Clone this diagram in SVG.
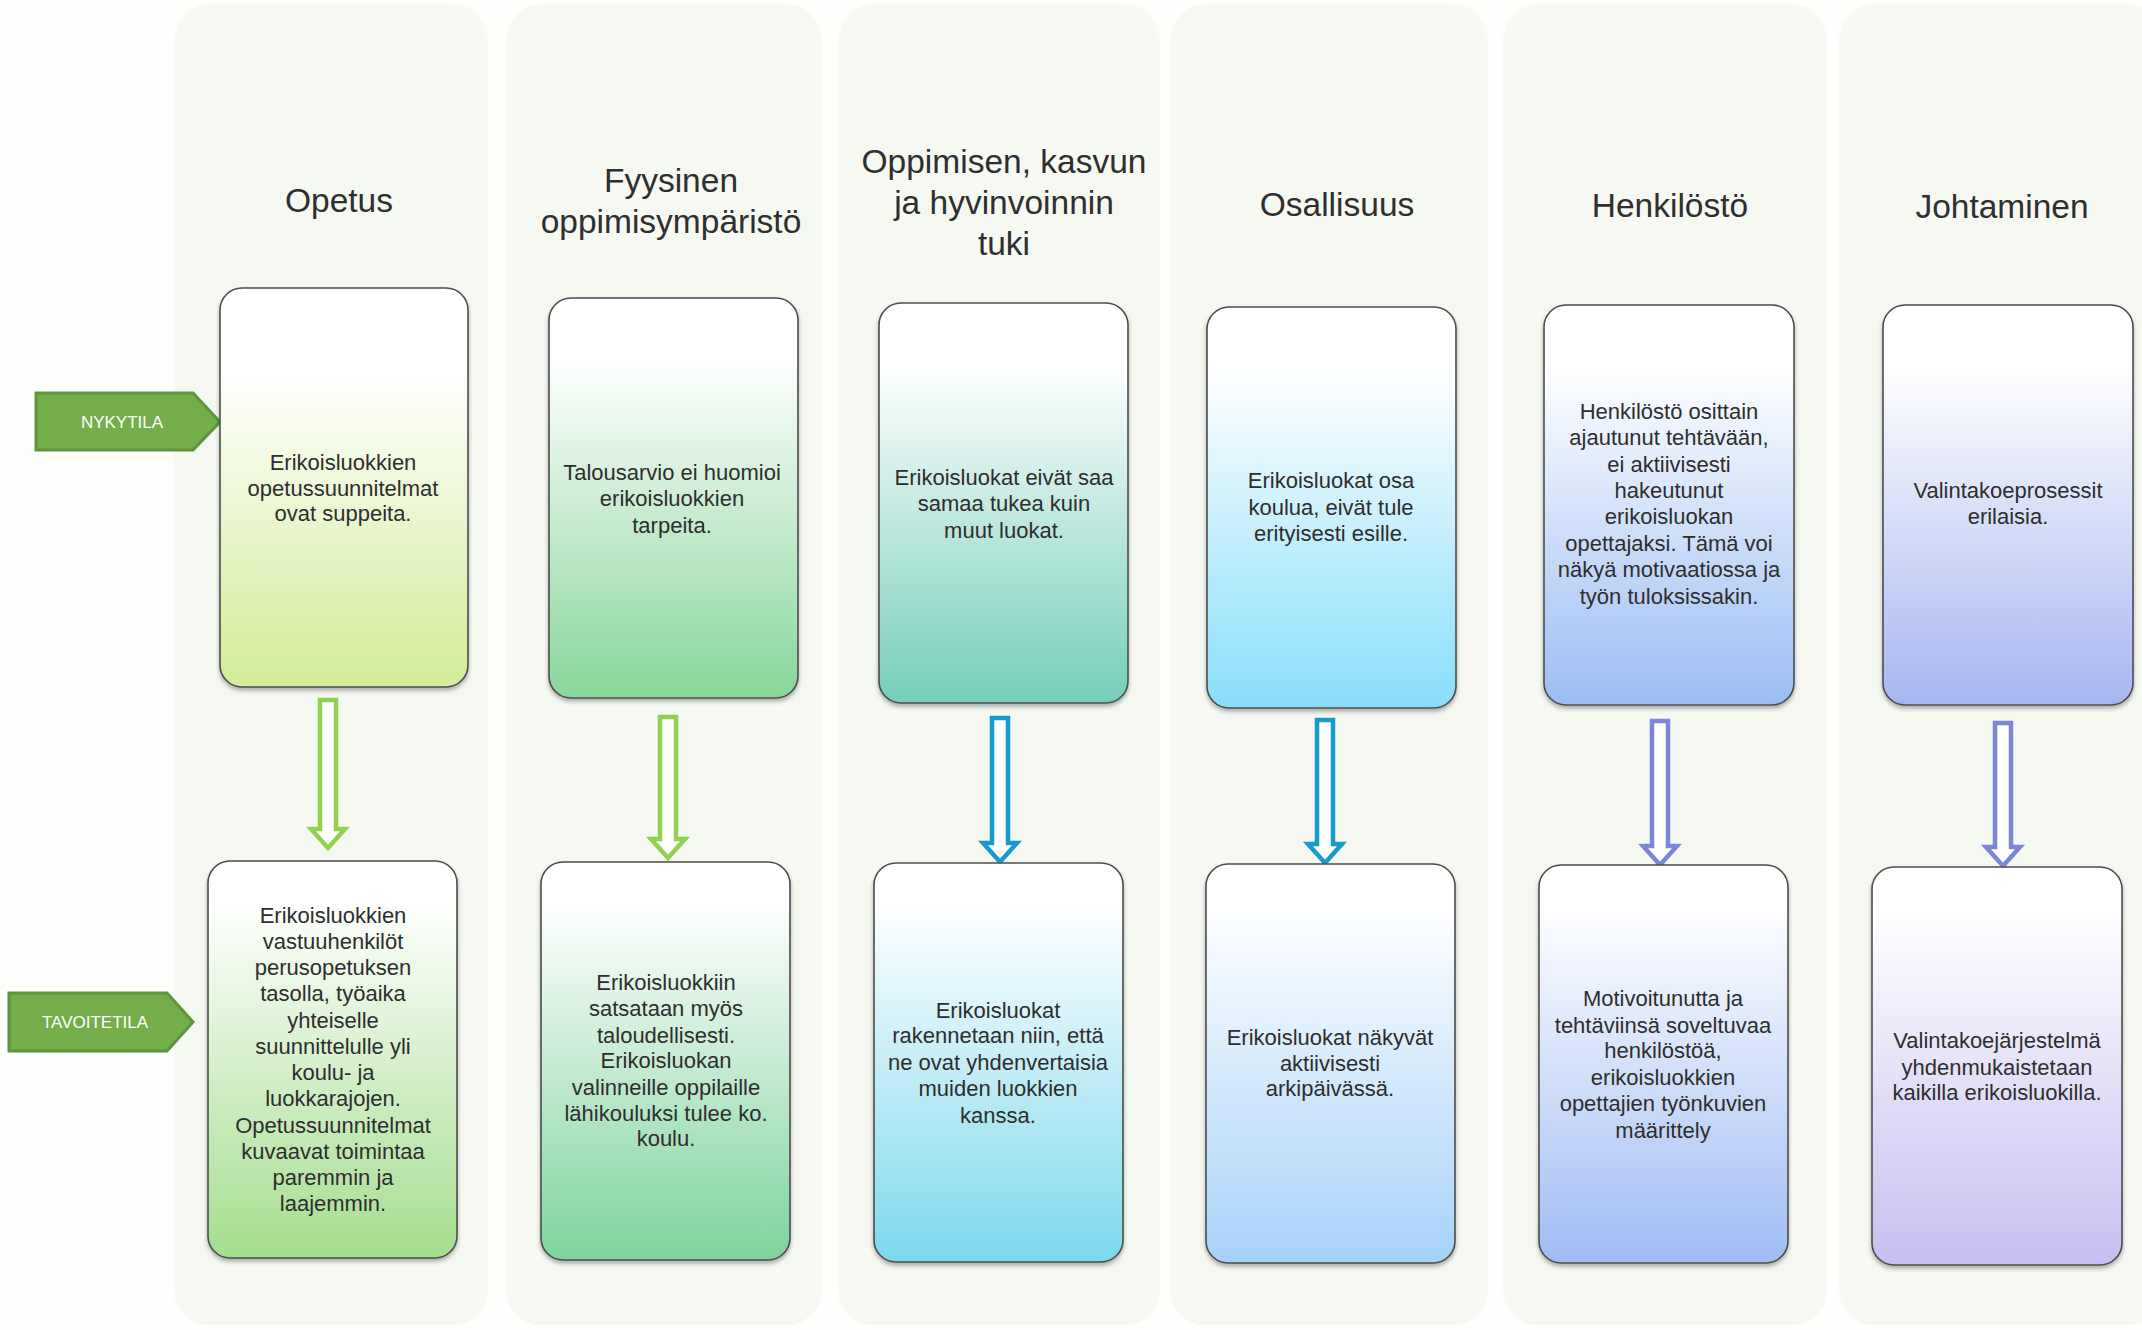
<svg xmlns="http://www.w3.org/2000/svg" width="2142" height="1330" viewBox="0 0 2142 1330">
<defs>
<style>
.panel{fill:#f6f8f2;}
.box{stroke:#4d4d4d;stroke-width:1.6;filter:url(#sh);}
.t{font-family:"Liberation Sans",Arial,sans-serif;font-size:22px;fill:#2e2e2e;text-anchor:middle;}
.h{font-family:"Liberation Sans",Arial,sans-serif;font-size:33.5px;fill:#2f2f2f;text-anchor:middle;}
.lab{fill:#73ae4a;stroke:#5c963a;stroke-width:3;}
.lt{font-family:"Liberation Sans",Arial,sans-serif;font-size:17px;fill:#ffffff;text-anchor:middle;}
.ar{fill:#ffffff;stroke-width:4.5;stroke-linejoin:miter;}
.g{stroke:#92d050;}
.b{stroke:#169bcb;}
.p{stroke:#7b86d8;}
</style>
<filter id="sh" x="-10%" y="-10%" width="120%" height="120%">
<feDropShadow dx="0" dy="3" stdDeviation="2" flood-color="#000" flood-opacity="0.3"/>
</filter>
<filter id="psh" x="-10%" y="-5%" width="120%" height="110%">
<feDropShadow dx="0" dy="2" stdDeviation="2" flood-color="#000" flood-opacity="0.07"/>
</filter>
<linearGradient id="g1" x1="0" y1="0" x2="0" y2="1"><stop offset="0.2" stop-color="#ffffff"/><stop offset="1" stop-color="#d2ec98"/></linearGradient>
<linearGradient id="g2" x1="0" y1="0" x2="0" y2="1"><stop offset="0.15" stop-color="#ffffff"/><stop offset="1" stop-color="#88d69a"/></linearGradient>
<linearGradient id="g3" x1="0" y1="0" x2="0" y2="1"><stop offset="0.15" stop-color="#ffffff"/><stop offset="1" stop-color="#74ceba"/></linearGradient>
<linearGradient id="g4" x1="0" y1="0" x2="0" y2="1"><stop offset="0.15" stop-color="#ffffff"/><stop offset="1" stop-color="#88def9"/></linearGradient>
<linearGradient id="g5" x1="0" y1="0" x2="0" y2="1"><stop offset="0.15" stop-color="#ffffff"/><stop offset="1" stop-color="#9bbdf3"/></linearGradient>
<linearGradient id="g6" x1="0" y1="0" x2="0" y2="1"><stop offset="0.15" stop-color="#ffffff"/><stop offset="1" stop-color="#a6b6f0"/></linearGradient>
<linearGradient id="h1" x1="0" y1="0" x2="0" y2="1"><stop offset="0.1" stop-color="#ffffff"/><stop offset="1" stop-color="#a4de8e"/></linearGradient>
<linearGradient id="h2" x1="0" y1="0" x2="0" y2="1"><stop offset="0.1" stop-color="#ffffff"/><stop offset="1" stop-color="#7fd39c"/></linearGradient>
<linearGradient id="h3" x1="0" y1="0" x2="0" y2="1"><stop offset="0.1" stop-color="#ffffff"/><stop offset="1" stop-color="#7dd8ec"/></linearGradient>
<linearGradient id="h4" x1="0" y1="0" x2="0" y2="1"><stop offset="0.1" stop-color="#ffffff"/><stop offset="1" stop-color="#a6d2f8"/></linearGradient>
<linearGradient id="h5" x1="0" y1="0" x2="0" y2="1"><stop offset="0.1" stop-color="#ffffff"/><stop offset="1" stop-color="#9fbcf3"/></linearGradient>
<linearGradient id="h6" x1="0" y1="0" x2="0" y2="1"><stop offset="0.1" stop-color="#ffffff"/><stop offset="1" stop-color="#c6bff0"/></linearGradient>
</defs>
<rect x="0" y="0" width="2142" height="1330" fill="#fefefd"/>

<g id="panels" filter="url(#psh)">
<rect class="panel" x="176" y="4" width="310" height="1318" rx="34"/>
<rect class="panel" x="508" y="4" width="312" height="1318" rx="34"/>
<rect class="panel" x="840" y="4" width="318" height="1318" rx="34"/>
<rect class="panel" x="1172" y="4" width="314" height="1318" rx="34"/>
<rect class="panel" x="1505" y="4" width="320" height="1318" rx="34"/>
<rect class="panel" x="1841" y="4" width="320" height="1318" rx="34"/>
</g>

<g id="headers">
<text class="h" x="339" y="212">Opetus</text>
<text class="h" x="671" y="192">Fyysinen</text>
<text class="h" x="671" y="233">oppimisympäristö</text>
<text class="h" x="1004" y="173">Oppimisen, kasvun</text>
<text class="h" x="1004" y="214">ja hyvinvoinnin</text>
<text class="h" x="1004" y="255">tuki</text>
<text class="h" x="1337" y="216">Osallisuus</text>
<text class="h" x="1670" y="217">Henkilöstö</text>
<text class="h" x="2002" y="218">Johtaminen</text>
</g>

<g id="label-nykytila">
<path class="lab" d="M36 393 H193 L220 422 L193 450 H36 Z"/>
<text class="lt" x="122" y="428">NYKYTILA</text>
</g>
<g id="label-tavoitetila">
<path class="lab" d="M9 993 H167 L193 1022 L167 1051 H9 Z"/>
<text class="lt" x="95" y="1028">TAVOITETILA</text>
</g>

<g id="connectors">
<path class="ar g" d="M320 700 H336 V829 H345 L328 848 L311 829 H320 Z"/>
<path class="ar g" d="M660 717 H676 V839 H685 L668 858 L651 839 H660 Z"/>
<path class="ar b" d="M992 718 H1008 V843 H1017 L1000 862 L983 843 H992 Z"/>
<path class="ar b" d="M1317 720 H1333 V844 H1342 L1325 863 L1308 844 H1317 Z"/>
<path class="ar p" d="M1652 721 H1668 V846 H1677 L1660 865 L1643 846 H1652 Z"/>
<path class="ar p" d="M1995 723 H2011 V847 H2020 L2003 866 L1986 847 H1995 Z"/>
</g>

<g id="nyky-opetus">
<rect class="box" x="220" y="288" width="248" height="399" rx="22" fill="url(#g1)"/>
<text class="t" x="343" y="470">Erikoisluokkien</text>
<text class="t" x="343" y="496">opetussuunnitelmat</text>
<text class="t" x="343" y="521">ovat suppeita.</text>
</g>
<g id="nyky-fyysinen">
<rect class="box" x="549" y="298" width="249" height="400" rx="22" fill="url(#g2)"/>
<text class="t" x="672" y="480">Talousarvio ei huomioi</text>
<text class="t" x="672" y="506">erikoisluokkien</text>
<text class="t" x="672" y="533">tarpeita.</text>
</g>
<g id="nyky-tuki">
<rect class="box" x="879" y="303" width="249" height="400" rx="22" fill="url(#g3)"/>
<text class="t" x="1004" y="485">Erikoisluokat eivät saa</text>
<text class="t" x="1004" y="511">samaa tukea kuin</text>
<text class="t" x="1004" y="538">muut luokat.</text>
</g>
<g id="nyky-osallisuus">
<rect class="box" x="1207" y="307" width="249" height="401" rx="22" fill="url(#g4)"/>
<text class="t" x="1331" y="488">Erikoisluokat osa</text>
<text class="t" x="1331" y="515">koulua, eivät tule</text>
<text class="t" x="1331" y="541">erityisesti esille.</text>
</g>
<g id="nyky-henkilosto">
<rect class="box" x="1544" y="305" width="250" height="400" rx="22" fill="url(#g5)"/>
<text class="t" x="1669" y="419">Henkilöstö osittain</text>
<text class="t" x="1669" y="445">ajautunut tehtävään,</text>
<text class="t" x="1669" y="472">ei aktiivisesti</text>
<text class="t" x="1669" y="498">hakeutunut</text>
<text class="t" x="1669" y="524">erikoisluokan</text>
<text class="t" x="1669" y="551">opettajaksi. Tämä voi</text>
<text class="t" x="1669" y="577">näkyä motivaatiossa ja</text>
<text class="t" x="1669" y="604">työn tuloksissakin.</text>
</g>
<g id="nyky-johtaminen">
<rect class="box" x="1883" y="305" width="250" height="400" rx="22" fill="url(#g6)"/>
<text class="t" x="2008" y="498">Valintakoeprosessit</text>
<text class="t" x="2008" y="524">erilaisia.</text>
</g>

<g id="tavoite-opetus">
<rect class="box" x="208" y="861" width="249" height="397" rx="22" fill="url(#h1)"/>
<text class="t" x="333" y="923">Erikoisluokkien</text>
<text class="t" x="333" y="949">vastuuhenkilöt</text>
<text class="t" x="333" y="975">perusopetuksen</text>
<text class="t" x="333" y="1001">tasolla, työaika</text>
<text class="t" x="333" y="1028">yhteiselle</text>
<text class="t" x="333" y="1054">suunnittelulle yli</text>
<text class="t" x="333" y="1080">koulu- ja</text>
<text class="t" x="333" y="1106">luokkarajojen.</text>
<text class="t" x="333" y="1133">Opetussuunnitelmat</text>
<text class="t" x="333" y="1159">kuvaavat toimintaa</text>
<text class="t" x="333" y="1185">paremmin ja</text>
<text class="t" x="333" y="1211">laajemmin.</text>
</g>
<g id="tavoite-fyysinen">
<rect class="box" x="541" y="862" width="249" height="398" rx="22" fill="url(#h2)"/>
<text class="t" x="666" y="990">Erikoisluokkiin</text>
<text class="t" x="666" y="1016">satsataan myös</text>
<text class="t" x="666" y="1043">taloudellisesti.</text>
<text class="t" x="666" y="1068">Erikoisluokan</text>
<text class="t" x="666" y="1095">valinneille oppilaille</text>
<text class="t" x="666" y="1121">lähikouluksi tulee ko.</text>
<text class="t" x="666" y="1146">koulu.</text>
</g>
<g id="tavoite-tuki">
<rect class="box" x="874" y="863" width="249" height="399" rx="22" fill="url(#h3)"/>
<text class="t" x="998" y="1018">Erikoisluokat</text>
<text class="t" x="998" y="1043">rakennetaan niin, että</text>
<text class="t" x="998" y="1070">ne ovat yhdenvertaisia</text>
<text class="t" x="998" y="1096">muiden luokkien</text>
<text class="t" x="998" y="1123">kanssa.</text>
</g>
<g id="tavoite-osallisuus">
<rect class="box" x="1206" y="864" width="249" height="399" rx="22" fill="url(#h4)"/>
<text class="t" x="1330" y="1045">Erikoisluokat näkyvät</text>
<text class="t" x="1330" y="1071">aktiivisesti</text>
<text class="t" x="1330" y="1096">arkipäivässä.</text>
</g>
<g id="tavoite-henkilosto">
<rect class="box" x="1539" y="865" width="249" height="398" rx="22" fill="url(#h5)"/>
<text class="t" x="1663" y="1006">Motivoitunutta ja</text>
<text class="t" x="1663" y="1033">tehtäviinsä soveltuvaa</text>
<text class="t" x="1663" y="1058">henkilöstöä,</text>
<text class="t" x="1663" y="1085">erikoisluokkien</text>
<text class="t" x="1663" y="1111">opettajien työnkuvien</text>
<text class="t" x="1663" y="1138">määrittely</text>
</g>
<g id="tavoite-johtaminen">
<rect class="box" x="1872" y="867" width="250" height="398" rx="22" fill="url(#h6)"/>
<text class="t" x="1997" y="1048">Valintakoejärjestelmä</text>
<text class="t" x="1997" y="1075">yhdenmukaistetaan</text>
<text class="t" x="1997" y="1100">kaikilla erikoisluokilla.</text>
</g>
</svg>
